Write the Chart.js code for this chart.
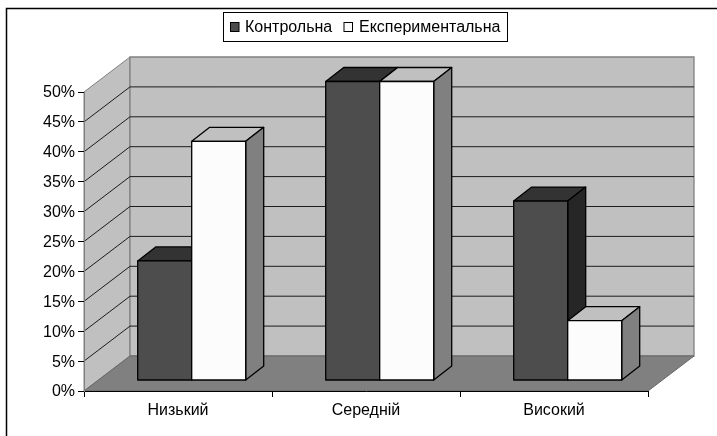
<!DOCTYPE html>
<html><head><meta charset="utf-8">
<style>html,body{margin:0;padding:0;background:#fff}canvas{display:block}</style>
<script src="https://cdn.jsdelivr.net/npm/chart.js@4"></script>
</head><body>
<div style="width:717px;height:436px"><canvas id="c" width="717" height="436"></canvas></div>
<script>
const categories = ['Низький', 'Середній', 'Високий'];
const seriesNames = ['Контрольна', 'Експериментальна'];
const controlValues = [20, 50, 30];
const experimentalValues = [40, 50, 10];

const FONT = '"Liberation Sans", Arial, sans-serif';
const FONT_SIZE = 16;
const WALL = {dx: 46, dy: -35};
const BAR_OFFSET = {dx: 13.7, dy: -10.5};
const BAR_DEPTH = {dx: 18, dy: -14};
const PLOT = {left: 84, right: 648, top: 92, bottom: 391};
const styles = [
  {front: '#4d4d4d', top: '#333333', side: '#262626'},
  {front: '#fcfcfc', top: '#c0c0c0', side: '#808080'}
];

function poly(ctx, pts, fill, stroke, lw) {
  ctx.beginPath();
  pts.forEach((p, i) => i ? ctx.lineTo(p[0], p[1]) : ctx.moveTo(p[0], p[1]));
  ctx.closePath();
  if (fill) { ctx.fillStyle = fill; ctx.fill(); }
  if (stroke) { ctx.strokeStyle = stroke; ctx.lineWidth = lw || 1; ctx.stroke(); }
}

const scene3d = {
  id: 'scene3d',
  beforeDraw(chart) {
    const ctx = chart.ctx, a = chart.chartArea, y = chart.scales.y;
    const L = a.left, R = a.right, T = a.top, B = a.bottom, dx = WALL.dx, dy = WALL.dy;
    ctx.save();
    // outer frame
    ctx.strokeStyle = '#000'; ctx.lineWidth = 1.5;
    ctx.beginPath(); ctx.moveTo(6.5, 436); ctx.lineTo(6.5, 8.5); ctx.lineTo(717, 8.5); ctx.stroke();
    // walls and floor
    poly(ctx, [[L, T], [L + dx, T + dy], [L + dx, B + dy], [L, B]], '#c0c0c0', '#808080', 1);
    poly(ctx, [[L + dx, T + dy], [R + dx, T + dy], [R + dx, B + dy], [L + dx, B + dy]], '#c0c0c0', '#808080', 1.3);
    poly(ctx, [[L, B], [L + dx, B + dy], [R + dx, B + dy], [R, B]], '#808080', '#666', 1);
    // gridlines from the value scale
    ctx.strokeStyle = '#1c1c1c'; ctx.lineWidth = 1;
    y.ticks.forEach(t => {
      if (t.value === 0 || t.value === 50) return;
      const py = y.getPixelForValue(t.value);
      ctx.beginPath();
      ctx.moveTo(L, py); ctx.lineTo(L + dx, py + dy); ctx.lineTo(R + dx, py + dy);
      ctx.stroke();
    });
    ctx.restore();
  },
  beforeDatasetsDraw(chart) {
    // left series first, so the right series overlaps it as a 3D bar does
    const ctx = chart.ctx, d = BAR_DEPTH;
    chart.getSortedVisibleDatasetMetas().forEach(meta => {
      const s = styles[meta.index];
      ctx.save();
      ctx.translate(BAR_OFFSET.dx, BAR_OFFSET.dy);
      ctx.lineJoin = 'round';
      meta.data.forEach(bar => {
        const p = bar.getProps(['x', 'y', 'base', 'width'], true);
        const l = p.x - p.width / 2, r = p.x + p.width / 2;
        poly(ctx, [[l, p.y], [l + d.dx, p.y + d.dy], [r + d.dx, p.y + d.dy], [r, p.y]], s.top, '#000', 1.3);
        poly(ctx, [[r, p.y], [r + d.dx, p.y + d.dy], [r + d.dx, p.base + d.dy], [r, p.base]], s.side, '#000', 1.3);
      });
      meta.controller.draw();
      meta.data.forEach(bar => {
        const p = bar.getProps(['x', 'y', 'base', 'width'], true);
        ctx.strokeStyle = '#000'; ctx.lineWidth = 1.3;
        ctx.strokeRect(p.x - p.width / 2, p.y, p.width, p.base - p.y);
      });
      ctx.restore();
    });
    return false;
  },
  afterDraw(chart) {
    const ctx = chart.ctx;
    ctx.save();
    // legend
    ctx.fillStyle = '#fff'; ctx.strokeStyle = '#000'; ctx.lineWidth = 1;
    ctx.fillRect(223.5, 12.5, 284, 29); ctx.strokeRect(223.5, 12.5, 284, 29);
    ctx.font = FONT_SIZE + 'px ' + FONT; ctx.textBaseline = 'middle'; ctx.textAlign = 'left';
    [[230.5, 245], [344, 359]].forEach((pos, i) => {
      ctx.fillStyle = styles[i].front; ctx.strokeStyle = '#000';
      ctx.fillRect(pos[0], 22.5, 8.5, 9); ctx.strokeRect(pos[0], 22.5, 8.5, 9);
      ctx.fillStyle = '#000';
      ctx.fillText(chart.data.datasets[i].label, pos[1], 27.5);
    });
    ctx.restore();
  }
};

new Chart(document.getElementById('c'), {
  type: 'bar',
  data: {
    labels: categories,
    datasets: [
      {label: seriesNames[0], data: controlValues, backgroundColor: styles[0].front},
      {label: seriesNames[1], data: experimentalValues, backgroundColor: styles[1].front}
    ]
  },
  options: {
    responsive: false,
    animation: false,
    layout: {padding: {left: 0, right: 717 - PLOT.right, top: PLOT.top, bottom: 0}},
    datasets: {bar: {categoryPercentage: 0.5745, barPercentage: 1, borderWidth: 0}},
    plugins: {legend: {display: false}, tooltip: {enabled: false}, title: {display: false}},
    scales: {
      x: {
        afterFit(s) { s.height = 436 - PLOT.bottom; },
        grid: {drawOnChartArea: false, tickLength: 6, color: '#000', tickColor: '#000'},
        border: {color: '#000', width: 1},
        ticks: {color: '#000', padding: 4, maxRotation: 0, font: {family: FONT, size: FONT_SIZE}}
      },
      y: {
        min: 0, max: 50,
        afterFit(s) { s.width = PLOT.left; },
        grid: {drawOnChartArea: false, tickLength: 6, color: '#000', tickColor: '#000'},
        border: {color: '#808080', width: 1},
        ticks: {stepSize: 5, color: '#000', padding: 3, labelOffset: 1, callback: v => v + '%', font: {family: FONT, size: FONT_SIZE}}
      }
    }
  },
  plugins: [scene3d]
});
</script>
</body></html>
